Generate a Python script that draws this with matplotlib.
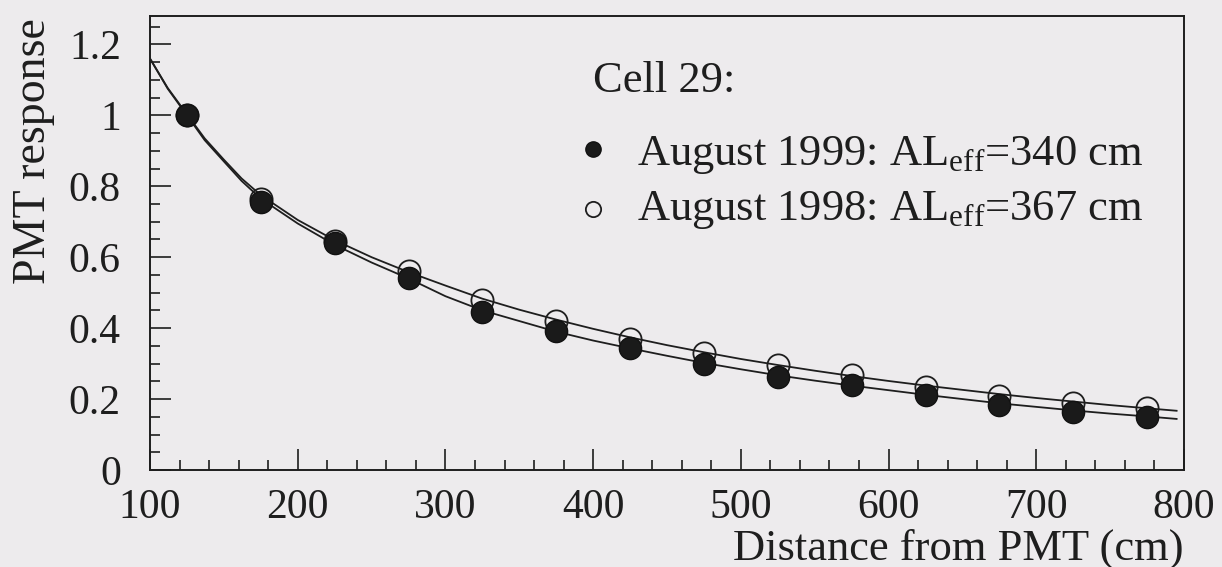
import matplotlib
matplotlib.use("Agg")
import matplotlib.pyplot as plt
from matplotlib.ticker import MultipleLocator

plt.rcParams['font.family'] = ['Liberation Serif', 'DejaVu Serif']
plt.rcParams['mathtext.fontset'] = 'custom'
plt.rcParams['mathtext.rm'] = 'Liberation Serif'

# measured points (distance in cm, normalised PMT response)
distance = [125, 175, 225, 275, 325, 375, 425, 475, 525, 575, 625, 675, 725, 775]
resp_1999 = [1.00, 0.755, 0.64, 0.54, 0.445, 0.392, 0.343, 0.30, 0.262, 0.24, 0.211, 0.183, 0.163, 0.15]
resp_1998 = [1.00, 0.765, 0.645, 0.562, 0.48, 0.42, 0.37, 0.33, 0.296, 0.267, 0.235, 0.21, 0.188, 0.175]

# fitted curves
fit_x = [100, 112, 125, 137, 150, 162, 175, 200, 225, 250, 275, 300, 325, 350, 375, 400, 425, 450,
         475, 500, 525, 550, 575, 600, 625, 650, 675, 700, 725, 750, 775, 795]
fit_1999 = [1.16, 1.075, 1.0, 0.93, 0.87, 0.815, 0.765, 0.695, 0.635, 0.585, 0.54, 0.49, 0.45, 0.42, 0.39,
            0.365, 0.343, 0.322, 0.302, 0.284, 0.267, 0.252, 0.238, 0.225, 0.212, 0.2, 0.188, 0.178, 0.168,
            0.159, 0.151, 0.144]
fit_1998 = [1.16, 1.077, 1.003, 0.935, 0.875, 0.822, 0.775, 0.705, 0.648, 0.6, 0.558, 0.52, 0.483, 0.452,
            0.424, 0.398, 0.374, 0.352, 0.332, 0.313, 0.296, 0.28, 0.265, 0.251, 0.238, 0.226, 0.214, 0.203,
            0.193, 0.183, 0.174, 0.167]

bg = '#edebed'
ink = '#1e1e1e'

fig = plt.figure(figsize=(12.22, 5.67), dpi=100, facecolor=bg)
ax = fig.add_axes([150/1222, 97/567, 1034/1222, 454/567], facecolor=bg)

ax.plot(fit_x, fit_1998, color=ink, lw=1.3, zorder=2)
ax.plot(fit_x, fit_1999, color=ink, lw=1.3, zorder=2)
ax.plot(distance, resp_1998, 'o', ms=16, mfc='none', mec=ink, mew=1.3, zorder=3)
ax.plot(distance, resp_1999, 'o', ms=16, mfc='#1a1a1a', mec='#111111', mew=1.0, zorder=4)

ax.set_xlim(100, 800)
ax.set_ylim(0, 1.28)
ax.xaxis.set_major_locator(MultipleLocator(100))
ax.xaxis.set_minor_locator(MultipleLocator(20))
ax.yaxis.set_minor_locator(MultipleLocator(0.05))
ax.set_yticks([0, 0.2, 0.4, 0.6, 0.8, 1.0, 1.2])
ax.set_yticklabels(['0', '0.2', '0.4', '0.6', '0.8', '1', '1.2'])
ax.tick_params(which='both', direction='in', top=False, right=False,
               labelsize=30, colors=ink, width=1.2)
ax.tick_params(which='major', length=15)
ax.tick_params(which='minor', length=7.5)
ax.tick_params(axis='x', which='major', pad=13)
ax.tick_params(axis='y', which='major', pad=21)
for s in ax.spines.values():
    s.set_linewidth(1.4)
    s.set_color(ink)

ax.set_xlabel('Distance from PMT (cm)', fontsize=32, color=ink, ha='right', va='baseline')
ax.xaxis.set_label_coords(1.0, -0.198)
ax.set_ylabel('PMT response', fontsize=33, color=ink, ha='right')
ax.yaxis.set_label_coords(-0.092, 0.996)

# legend block
lx, tx = 0.4284, 0.471
ax.text(lx, 0.8326, 'Cell 29:', transform=ax.transAxes, fontsize=32, color=ink, va='baseline')
ax.plot([lx], [0.707], 'o', transform=ax.transAxes, ms=11, mfc='#1a1a1a', mec='#111111', clip_on=False)
ax.text(tx, 0.6718, r'August 1999: $\mathregular{AL_{eff}}$=340 cm', transform=ax.transAxes,
        fontsize=32, color=ink, va='baseline')
ax.plot([lx], [0.575], 'o', transform=ax.transAxes, ms=11, mfc='none', mec=ink, mew=1.3, clip_on=False)
ax.text(tx, 0.5507, r'August 1998: $\mathregular{AL_{eff}}$=367 cm', transform=ax.transAxes,
        fontsize=32, color=ink, va='baseline')

fig.savefig('out.png', dpi=100, facecolor=bg)
